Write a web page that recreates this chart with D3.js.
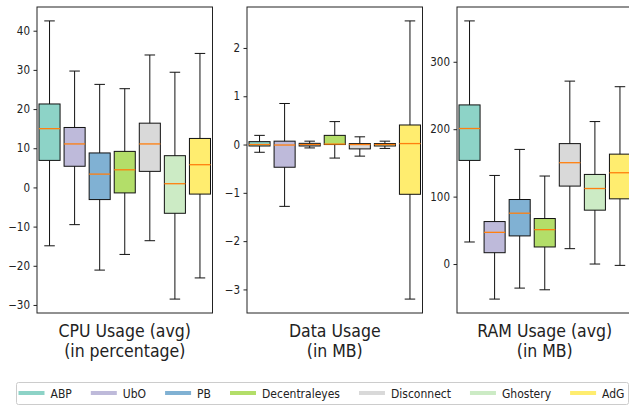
<!DOCTYPE html>
<html lang="en">
<head>
  <meta charset="utf-8">
  <title>Blocker resource usage</title>
  <script src="https://d3js.org/d3.v7.min.js"></script>
  <style>
    body { margin: 0; background: #fff; }
    svg text {
      font-family: 'DejaVu Sans Condensed', 'DejaVu Sans', sans-serif;
      font-stretch: condensed;
      fill: #222;
    }
    .tick text { font-size: 11.5px; }
    .label { font-size: 17.5px; }
    .legend text { font-size: 12px; }
  </style>
</head>
<body>
  <div id="chart"></div>

  <script>

    // blockers, in drawing order
    var blockers = ['ABP', 'UbO', 'PB', 'Decentraleyes', 'Disconnect', 'Ghostery', 'AdG'];
    var colors = ['#8dd3c7', '#bebada', '#80b1d3', '#b3de69', '#d9d9d9', '#ccebc5', '#ffed6f'];

    // [whisker low, q1, median, q3, whisker high] per blocker
    var cpuStats = [
      [-14.9, 6.9, 15.0, 21.3, 42.5],
      [-9.5, 5.4, 11.1, 15.3, 29.7],
      [-21.1, -3.1, 3.4, 8.8, 26.3],
      [-17.1, -1.4, 4.5, 9.2, 25.2],
      [-13.6, 4.1, 11.1, 16.4, 33.8],
      [-28.5, -6.6, 0.95, 8.1, 29.4],
      [-23.1, -1.7, 5.8, 12.5, 34.2]
    ];
    var dataStats = [
      [-0.16, -0.03, 0.0, 0.06, 0.19],
      [-1.28, -0.47, -0.01, 0.07, 0.85],
      [-0.07, -0.03, 0.0, 0.025, 0.07],
      [-0.28, 0.0, 0.01, 0.19, 0.475],
      [-0.24, -0.09, 0.0, 0.02, 0.16],
      [-0.08, -0.03, 0.0, 0.02, 0.07],
      [-3.2, -1.03, 0.02, 0.405, 2.56]
    ];
    var ramStats = [
      [32.7, 153.7, 201, 236, 360.6],
      [-52, 16.8, 47, 63, 131.4],
      [-35.7, 41.7, 75.4, 95.7, 170],
      [-38.2, 25.3, 51, 67.5, 130.5],
      [22.8, 115.6, 150.3, 178.6, 271.3],
      [0, 79.9, 112, 132.9, 211.3],
      [-2, 96.7, 135.4, 163, 263]
    ];

    var cpuTicks = [-30, -20, -10, 0, 10, 20, 30, 40];
    var dataTicks = [-3, -2, -1, 0, 1, 2];
    var ramTicks = [0, 100, 200, 300];

    var panels = [
      { stats: cpuStats, ticks: cpuTicks, label: ['CPU Usage (avg)', '(in percentage)'] },
      { stats: dataStats, ticks: dataTicks, label: ['Data Usage', '(in MB)'] },
      { stats: ramStats, ticks: ramTicks, label: ['RAM Usage (avg)', '(in MB)'] }
    ];

    var width = 629, height = 406;
    var plotTop = 7, plotBottom = 313;
    var panelW = 175.5, panelStep = 210, firstLeft = 37;
    var boxW = 0.84;

    var svg = d3.select('#chart')
                .append('svg')
                .attr('width', width)
                .attr('height', height);

    var fmt = function(d) { return d < 0 ? '\u2212' + Math.abs(d) : d; };

    panels.forEach(function(p, k) {

      var left = firstLeft + k * panelStep;

      var lo = d3.min(p.stats, function(s) { return s[0]; });
      var hi = d3.max(p.stats, function(s) { return s[4]; });
      var pad = (hi - lo) * 0.05;

      var yScale = d3.scaleLinear()
                     .domain([lo - pad, hi + pad])
                     .range([plotBottom, plotTop]);

      var xScale = d3.scaleLinear()
                     .domain([0.5, 7.5])
                     .range([left, left + panelW]);

      var g = svg.append('g');

      var yAxis = d3.axisLeft(yScale)
                    .tickValues(p.ticks)
                    .tickSize(3.5)
                    .tickPadding(3.5)
                    .tickFormat(fmt);

      var ax = g.append('g')
                .attr('class', 'yAxis')
                .attr('transform', 'translate(' + left + ',0)')
                .call(yAxis);
      ax.select('.domain').remove();
      ax.selectAll('line').attr('stroke', '#222');
      ax.selectAll('text').attr('fill', '#222');

      var half = (xScale(1 + boxW / 2) - xScale(1));
      var cap = half / 2;

      var box = g.selectAll('.box')
                 .data(p.stats)
                 .enter()
                 .append('g')
                 .attr('class', 'box');

      // whiskers
      box.append('line')
         .attr('x1', function(d, i) { return xScale(i + 1); })
         .attr('x2', function(d, i) { return xScale(i + 1); })
         .attr('y1', function(d) { return yScale(d[4]); })
         .attr('y2', function(d) { return yScale(d[0]); })
         .attr('stroke', '#111')
         .attr('stroke-width', 1);

      [0, 4].forEach(function(j) {
        box.append('line')
           .attr('x1', function(d, i) { return xScale(i + 1) - cap; })
           .attr('x2', function(d, i) { return xScale(i + 1) + cap; })
           .attr('y1', function(d) { return yScale(d[j]); })
           .attr('y2', function(d) { return yScale(d[j]); })
           .attr('stroke', '#111')
           .attr('stroke-width', 1);
      });

      box.append('rect')
         .attr('x', function(d, i) { return xScale(i + 1) - half; })
         .attr('y', function(d) { return yScale(d[3]); })
         .attr('width', half * 2)
         .attr('height', function(d) { return Math.max(0.5, yScale(d[1]) - yScale(d[3])); })
         .attr('fill', function(d, i) { return colors[i]; })
         .attr('stroke', '#111')
         .attr('stroke-width', 1);

      box.append('line')
         .attr('x1', function(d, i) { return xScale(i + 1) - half; })
         .attr('x2', function(d, i) { return xScale(i + 1) + half; })
         .attr('y1', function(d) { return yScale(d[2]); })
         .attr('y2', function(d) { return yScale(d[2]); })
         .attr('stroke', '#ff7f0e')
         .attr('stroke-width', 1.3);

      // frame
      g.append('rect')
       .attr('x', left)
       .attr('y', plotTop)
       .attr('width', panelW)
       .attr('height', plotBottom - plotTop)
       .attr('fill', 'none')
       .attr('stroke', '#222')
       .attr('stroke-width', 1);

      var lab = g.append('text')
                 .attr('class', 'label')
                 .attr('text-anchor', 'middle');
      p.label.forEach(function(t, j) {
        lab.append('tspan')
           .attr('x', left + panelW / 2)
           .attr('y', 337 + j * 20)
           .text(t);
      });
    });

    // legend
    var legend = svg.append('g').attr('class', 'legend');

    var frame = legend.append('rect')
                      .attr('x', 16.5)
                      .attr('y', 382.5)
                      .attr('height', 22)
                      .attr('rx', 2)
                      .attr('fill', '#fff')
                      .attr('stroke', '#ccc');

    var lx = 18.5;
    blockers.forEach(function(name, i) {
      legend.append('line')
            .attr('x1', lx)
            .attr('x2', lx + 26)
            .attr('y1', 393)
            .attr('y2', 393)
            .attr('stroke', colors[i])
            .attr('stroke-width', 4);
      var t = legend.append('text')
                    .attr('x', lx + 32)
                    .attr('y', 397.5)
                    .text(name);
      lx += 32 + t.node().getComputedTextLength() + 19;
    });
    frame.attr('width', lx - 19 + 4 - 16.5);

  </script>
</body>
</html>
